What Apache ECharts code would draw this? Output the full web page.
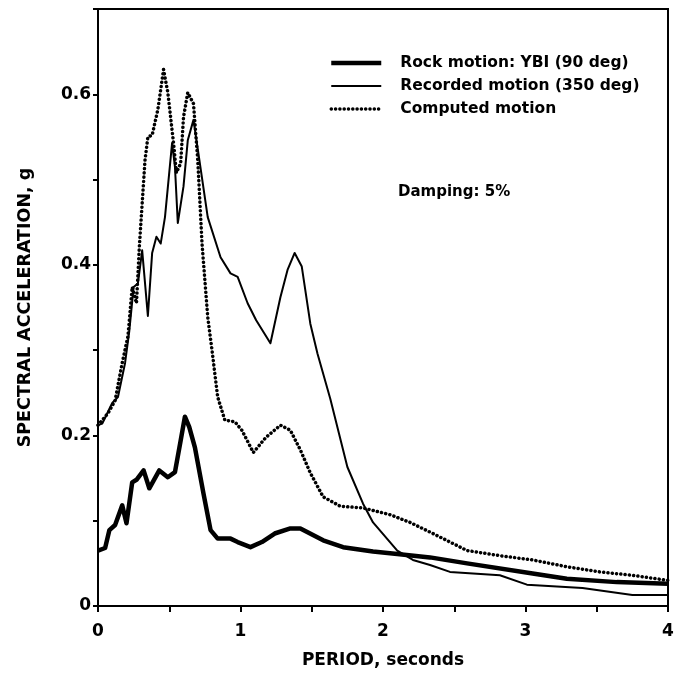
<!DOCTYPE html>
<html>
<head>
<meta charset="utf-8">
<script src="https://cdn.jsdelivr.net/npm/echarts@6/dist/echarts.min.js"></script>
<style>html,body{margin:0;padding:0;background:#fff}#c{width:682px;height:677px}</style>
</head>
<body>
<div id="c"></div>
<script>
const seriesNames = ['Rock motion: YBI (90 deg)', 'Recorded motion (350 deg)', 'Computed motion'];
const xTickLabels = ['0', '1', '2', '3', '4'];
const yTickLabels = ['0', '0.2', '0.4', '0.6'];
const xTitle = 'PERIOD, seconds';
const yTitle = 'SPECTRAL ACCELERATION, g';
const note = 'Damping: 5%';

const rockT  = [0, 0.05, 0.08, 0.12, 0.17, 0.2, 0.24, 0.27, 0.32, 0.36, 0.43, 0.49, 0.54, 0.58, 0.61, 0.64, 0.68, 0.74, 0.79, 0.84, 0.93, 0.98, 1.07, 1.15, 1.24, 1.35, 1.42, 1.58, 1.72, 1.93, 2.1, 2.33, 2.59, 3.05, 3.29, 3.64, 4.0];
const rockSa = [0.065, 0.068, 0.089, 0.095, 0.118, 0.097, 0.145, 0.148, 0.159, 0.138, 0.159, 0.151, 0.157, 0.194, 0.222, 0.21, 0.186, 0.132, 0.089, 0.079, 0.079, 0.075, 0.069, 0.075, 0.085, 0.091, 0.091, 0.077, 0.069, 0.064, 0.061, 0.057, 0.050, 0.038, 0.032, 0.028, 0.026];

const recT  = [0, 0.03, 0.1, 0.14, 0.19, 0.22, 0.25, 0.28, 0.31, 0.35, 0.38, 0.41, 0.44, 0.47, 0.52, 0.54, 0.56, 0.6, 0.63, 0.67, 0.7, 0.77, 0.86, 0.93, 0.98, 1.05, 1.11, 1.21, 1.28, 1.33, 1.38, 1.43, 1.49, 1.54, 1.63, 1.75, 1.86, 1.93, 2.1, 2.21, 2.33, 2.47, 2.82, 3.01, 3.4, 3.75, 4.0];
const recSa = [0.212, 0.214, 0.238, 0.245, 0.285, 0.323, 0.374, 0.378, 0.417, 0.34, 0.414, 0.433, 0.425, 0.456, 0.543, 0.515, 0.449, 0.492, 0.546, 0.570, 0.536, 0.456, 0.409, 0.39, 0.386, 0.355, 0.335, 0.308, 0.362, 0.394, 0.414, 0.398, 0.331, 0.296, 0.243, 0.163, 0.12, 0.098, 0.065, 0.054, 0.048, 0.04, 0.036, 0.025, 0.021, 0.013, 0.013];

const compT  = [0, 0.07, 0.12, 0.17, 0.21, 0.24, 0.27, 0.29, 0.33, 0.35, 0.38, 0.42, 0.46, 0.49, 0.53, 0.55, 0.58, 0.6, 0.63, 0.67, 0.7, 0.73, 0.77, 0.8, 0.84, 0.89, 0.96, 1.01, 1.09, 1.18, 1.28, 1.35, 1.42, 1.49, 1.58, 1.7, 1.86, 2.05, 2.19, 2.35, 2.59, 2.82, 3.05, 3.29, 3.52, 3.75, 4.0];
const compSa = [0.212, 0.226, 0.241, 0.285, 0.316, 0.374, 0.355, 0.421, 0.523, 0.55, 0.552, 0.582, 0.629, 0.602, 0.543, 0.508, 0.519, 0.573, 0.602, 0.589, 0.523, 0.425, 0.339, 0.30, 0.245, 0.218, 0.216, 0.206, 0.18, 0.198, 0.212, 0.206, 0.183, 0.156, 0.128, 0.117, 0.115, 0.107, 0.098, 0.085, 0.065, 0.059, 0.054, 0.046, 0.04, 0.036, 0.030];

function pairs(xs, ys) { return xs.map((x, i) => [x, ys[i]]); }

const FONT = 'DejaVu Sans';
const chart = echarts.init(document.getElementById('c'), null, {renderer: 'canvas'});
chart.setOption({
  animation: false,
  backgroundColor: '#fff',
  grid: {left: 98, right: 14, top: 9, bottom: 71, show: true, borderColor: '#000', borderWidth: 2, backgroundColor: 'transparent'},
  legend: {
    orient: 'vertical', left: 324, top: 50, itemWidth: 50, itemHeight: 14, itemGap: 7,
    data: seriesNames,
    itemStyle: {opacity: 0},
    lineStyle: {width: 'inherit', type: 'inherit'},
    textStyle: {fontFamily: FONT, fontWeight: 'bold', fontSize: 15.5, color: '#000', padding: [0, 0, 0, 14]}
  },
  graphic: [{type: 'text', left: 398, top: 185, style: {text: note, font: 'bold 15px "DejaVu Sans"', fill: '#000'}}],
  xAxis: {
    type: 'value', min: 0, max: 4, interval: 0.5,
    name: xTitle, nameLocation: 'middle', nameGap: 46,
    nameTextStyle: {fontFamily: FONT, fontWeight: 'bold', fontSize: 17, color: '#000'},
    axisLine: {lineStyle: {color: '#000', width: 2}},
    axisTick: {inside: false, length: 6, lineStyle: {color: '#000', width: 2}},
    axisLabel: {margin: 17, fontFamily: FONT, fontWeight: 'bold', fontSize: 17, color: '#000',
      formatter: v => { const i = xTickLabels.indexOf(String(Math.round(v))); return (Math.abs(v - Math.round(v)) < 1e-6 && i >= 0) ? xTickLabels[i] : ''; }},
    splitLine: {show: false}
  },
  yAxis: {
    type: 'value', min: 0, max: 0.7, interval: 0.1,
    name: yTitle, nameLocation: 'middle', nameGap: 64, nameRotate: 90,
    nameTextStyle: {fontFamily: FONT, fontWeight: 'bold', fontSize: 17.5, color: '#000'},
    axisLine: {lineStyle: {color: '#000', width: 2}},
    axisTick: {inside: false, length: 5, lineStyle: {color: '#000', width: 2}},
    axisLabel: {margin: 7, fontFamily: FONT, fontWeight: 'bold', fontSize: 17, color: '#000',
      formatter: v => { const s = (Math.round(v * 10) / 10).toString(); return yTickLabels.includes(s) ? s : ''; }},
    splitLine: {show: false}
  },
  series: [
    {name: seriesNames[0], type: 'line', symbol: 'none', data: pairs(rockT, rockSa), color: '#000', lineStyle: {color: '#000', width: 4.5, join: 'round'}},
    {name: seriesNames[1], type: 'line', symbol: 'none', data: pairs(recT, recSa), color: '#000', lineStyle: {color: '#000', width: 2, join: 'round'}},
    {name: seriesNames[2], type: 'line', symbol: 'none', data: pairs(compT, compSa), color: '#000', lineStyle: {color: '#000', width: 3.5, type: [0.1, 4.2], cap: 'round', join: 'round'}}
  ]
});
</script>
</body>
</html>
